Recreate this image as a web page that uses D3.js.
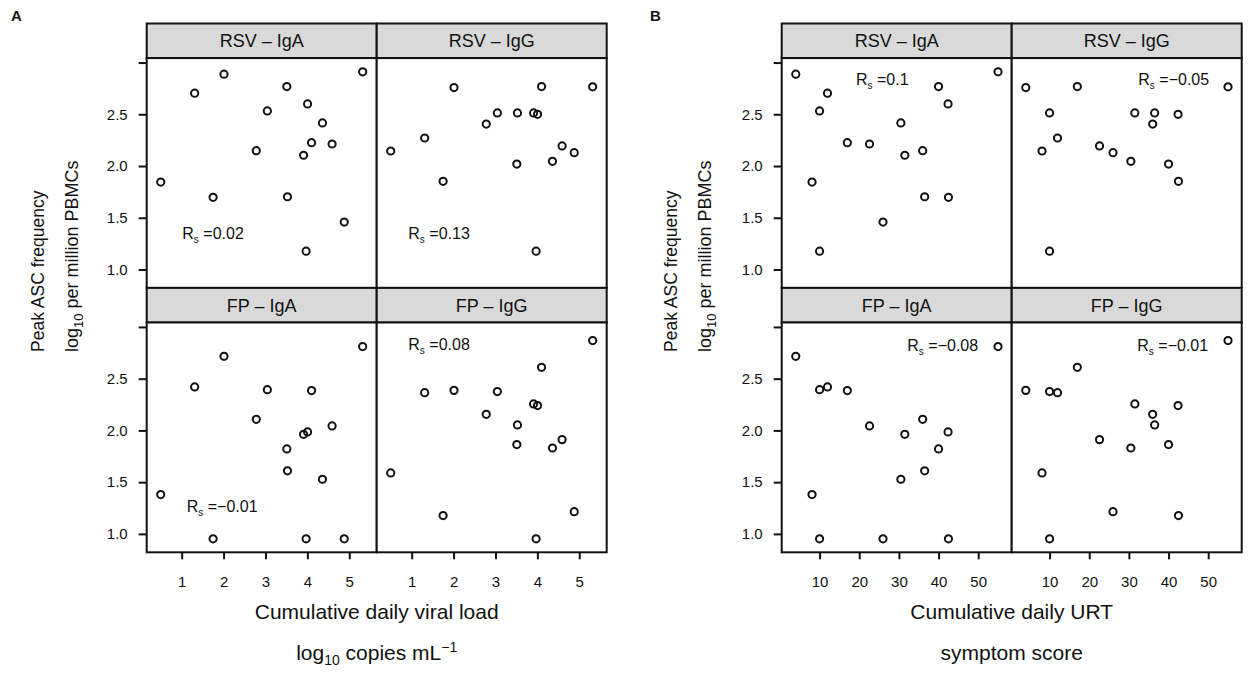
<!DOCTYPE html>
<html>
<head>
<meta charset="utf-8">
<script src="https://cdn.jsdelivr.net/npm/d3@7/dist/d3.min.js"></script>
<style>
  body { margin: 0; background: white; }
  text { font-family: "Liberation Sans", Arial, Helvetica, sans-serif; fill: #111; }
</style>
</head>
<body>
<script>
// panel names, lattice order: top-left, top-right, bottom-left, bottom-right
const panelNames = ["RSV \u2013 IgA", "RSV \u2013 IgG", "FP \u2013 IgA", "FP \u2013 IgG"];

// one value per volunteer (same order in every array)
const viralLoad    = [2.01, 1.31, 3.51, 5.32, 4.005, 3.045, 4.36, 4.10, 4.59, 2.78, 3.91, 0.50, 1.75, 3.525, 4.88, 3.97];
const symptomScore = [4.0, 12.0, 40.0, 55.0, 42.4, 10.0, 30.5, 17.0, 22.6, 36.0, 31.5, 8.1, 42.5, 36.5, 26.0, 10.0];
const rsvIgA = [2.888, 2.704, 2.768, 2.910, 2.600, 2.532, 2.416, 2.226, 2.213, 2.148, 2.104, 1.845, 1.697, 1.703, 1.458, 1.177];
const rsvIgG = [2.758, 2.271, 2.019, 2.765, 2.500, 2.513, 2.045, 2.768, 2.194, 2.405, 2.513, 2.145, 1.852, 2.513, 2.129, 1.177];
const fpIgA  = [2.716, 2.420, 1.821, 2.810, 1.985, 2.394, 1.528, 2.385, 2.043, 2.107, 1.962, 1.380, 0.952, 1.609, 0.952, 0.952];
const fpIgG  = [2.387, 2.365, 1.863, 2.868, 2.240, 2.375, 1.830, 2.610, 1.911, 2.156, 2.256, 1.589, 1.177, 2.053, 1.215, 0.952];

// spearman coefficients printed in each panel
const rsViral   = ["0.02", "0.13", "\u22120.01", "0.08"];
const rsSymptom = ["0.1", "\u22120.05", "\u22120.08", "\u22120.01"];

// tick values and labels
const yTicks = [1.0, 1.5, 2.0, 2.5, 3.0];
const yTickLabels = ["1.0", "1.5", "2.0", "2.5", ""];
const xTicksViral = [1, 2, 3, 4, 5];
const xTicksSymptom = [10, 20, 30, 40, 50];

const panelValues = [rsvIgA, rsvIgG, fpIgA, fpIgG];

// layout
const width = 1248, height = 673;
const panelW = 230, panelH = 229.8, stripH = 34.6, topY = 23.5;

const svg = d3.select("body")
  .append("svg")
    .attr("width", width)
    .attr("height", height);

const y = d3.scaleLinear()
  .domain([0.822, 3.043])
  .range([panelH, 0]);

function drawFigure(cfg) {
  const x = d3.scaleLinear()
    .domain(cfg.xDomain)
    .range([0, panelW]);

  panelNames.forEach(function(name, i) {
    const col = i % 2, row = Math.floor(i / 2);
    const gx = cfg.left + col * panelW;
    const gy = topY + row * (stripH + panelH) + stripH;

    const g = svg.append("g").attr("transform", `translate(${gx}, ${gy})`);

    // strip
    g.append("rect")
      .attr("x", 0).attr("y", -stripH)
      .attr("width", panelW).attr("height", stripH)
      .attr("fill", "#d9d9d9")
      .attr("stroke", "#111").attr("stroke-width", 2);
    g.append("text")
      .attr("x", panelW / 2).attr("y", -stripH / 2)
      .attr("dy", "0.35em")
      .style("text-anchor", "middle")
      .style("font-size", "18px")
      .text(name);

    // panel box
    g.append("rect")
      .attr("width", panelW).attr("height", panelH)
      .attr("fill", "white")
      .attr("stroke", "#111").attr("stroke-width", 2);

    // points
    const vals = panelValues[i];
    g.selectAll(".pt")
      .data(cfg.xValues.map((v, k) => [v, vals[k]]))
      .enter()
      .append("circle")
        .attr("class", "pt")
        .attr("cx", d => x(d[0]))
        .attr("cy", d => y(d[1]))
        .attr("r", 3.6)
        .attr("fill", "none")
        .attr("stroke", "#111")
        .attr("stroke-width", 2);

    // R_s label
    const p = cfg.rsPos[i];
    const t = g.append("text")
      .attr("x", p[0]).attr("y", p[1])
      .attr("dy", "0.35em")
      .style("font-size", "16px");
    t.append("tspan").text("R");
    t.append("tspan").attr("dy", 4).style("font-size", "10px").text("s");
    t.append("tspan").attr("dy", -4).text(" =" + cfg.rs[i]);

    // y axis on the left column only
    if (col === 0) {
      const ay = g.append("g")
        .call(d3.axisLeft(y)
          .tickValues(yTicks)
          .tickFormat((d, k) => yTickLabels[k])
          .tickSize(8)
          .tickPadding(11));
      ay.select(".domain").remove();
      ay.selectAll("line").attr("stroke", "#111").attr("stroke-width", 2);
      ay.selectAll("text").style("font-size", "15px").attr("fill", "#111");
    }

    // x axis on the bottom row only
    if (row === 1) {
      const ax = g.append("g")
        .attr("transform", `translate(0, ${panelH})`)
        .call(d3.axisBottom(x)
          .tickValues(cfg.xTicks)
          .tickFormat(d3.format("d"))
          .tickSize(7)
          .tickPadding(17));
      ax.select(".domain").remove();
      ax.selectAll("line").attr("stroke", "#111").attr("stroke-width", 2);
      ax.selectAll("text").style("font-size", "15px").attr("fill", "#111");
    }
  });

  const cx = cfg.left + panelW;

  // x axis titles
  svg.append("text")
    .attr("x", cx).attr("y", 619)
    .style("text-anchor", "middle")
    .style("font-size", "21px")
    .text(cfg.xTitle);
  const sub = svg.append("text")
    .attr("x", cx).attr("y", 660)
    .style("text-anchor", "middle")
    .style("font-size", "21px");
  cfg.xSub(sub);

  // y axis titles
  svg.append("text")
    .attr("transform", `translate(${cfg.yTitleX}, 352) rotate(-90)`)
    .attr("dy", "0.35em")
    .style("font-size", "17.5px")
    .text("Peak ASC frequency");
  const yl = svg.append("text")
    .attr("transform", `translate(${cfg.yTitleX + 34}, 352) rotate(-90)`)
    .attr("dy", "0.35em")
    .style("font-size", "18px");
  yl.append("tspan").text("log");
  yl.append("tspan").attr("dy", 5).style("font-size", "13px").text("10");
  yl.append("tspan").attr("dy", -5).text(" per million PBMCs");

  // figure letter
  svg.append("text")
    .attr("x", cfg.letterX).attr("y", 21)
    .style("font-size", "15px")
    .style("font-weight", "bold")
    .text(cfg.letter);
}

drawFigure({
  letter: "A", letterX: 11, left: 146.7, yTitleX: 38,
  xDomain: [0.165, 5.655], xTicks: xTicksViral, xValues: viralLoad,
  rs: rsViral,
  rsPos: [[35.6, 175], [31.6, 175], [40, 184], [31.6, 22.3]],
  xTitle: "Cumulative daily viral load",
  xSub: function(t) {
    t.append("tspan").text("log");
    t.append("tspan").attr("dy", 5).style("font-size", "14px").text("10");
    t.append("tspan").attr("dy", -5).text(" copies mL");
    t.append("tspan").attr("dy", -8).style("font-size", "14px").text("\u22121");
  }
});

drawFigure({
  letter: "B", letterX: 650, left: 781.7, yTitleX: 671,
  xDomain: [0.45, 58.45], xTicks: xTicksSymptom, xValues: symptomScore,
  rs: rsSymptom,
  rsPos: [[74.3, 21.7], [126.6, 21.7], [125.6, 23], [125.6, 23]],
  xTitle: "Cumulative daily URT",
  xSub: function(t) { t.text("symptom score"); }
});
</script>
</body>
</html>
